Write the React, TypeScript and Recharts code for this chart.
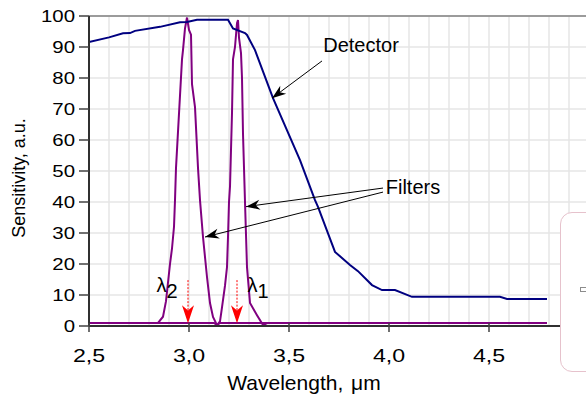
import React from "react";
import {
  CartesianGrid,
  Label,
  Line,
  LineChart,
  ReferenceDot,
  ReferenceLine,
  XAxis,
  YAxis,
} from "recharts";

const X_TICKS = [
  2.5, 2.6, 2.7, 2.8, 2.9, 3.0, 3.1, 3.2, 3.3, 3.4, 3.5, 3.6, 3.7, 3.8, 3.9,
  4.0, 4.1, 4.2, 4.3, 4.4, 4.5, 4.6, 4.7, 4.8, 4.9, 5.0,
];
// labelled ticks (5,0 sits under the legend box, so it is left out)
const X_MAJOR = [2.5, 3.0, 3.5, 4.0, 4.5];
const Y_TICKS = [0, 10, 20, 30, 40, 50, 60, 70, 80, 90, 100];

const DETECTOR_X = [
  2.5, 2.6, 2.67, 2.705, 2.73, 2.855, 2.955, 2.99, 3.04, 3.195, 3.22, 3.28,
  3.29, 3.33, 3.42, 3.555, 3.63, 3.645, 3.73, 3.805, 3.845, 3.915, 3.965,
  4.03, 4.115, 4.165, 4.555, 4.59, 4.79,
];
const DETECTOR_Y = [
  91.6, 93.1, 94.4, 94.5, 95.2, 96.5, 98, 98.1, 98.8, 98.8, 96, 94.5, 93.9,
  89, 73.5, 53.5, 40.6, 38.4, 23.9, 19.7, 17.7, 13.2, 11.6, 11.6, 9.4, 9.4,
  9.4, 8.7, 8.7,
];

// filter centred near lambda 2
const FILTER2_X = [
  2.5, 2.845, 2.87, 2.885, 2.905, 2.915, 2.925, 2.93, 2.935, 2.965, 2.97,
  2.98, 2.99, 3.0, 3.01, 3.015, 3.03, 3.045, 3.055, 3.07, 3.09, 3.105, 3.12,
  3.14, 3.155, 4.79,
];
const FILTER2_Y = [
  1, 1, 3, 8, 20, 25, 32, 40.6, 51, 86, 89, 96, 99.5, 95.5, 94, 78, 70.6, 51,
  40.6, 28.7, 15.8, 7.4, 2.9, 0.3, 1, 1,
];

// filter centred near lambda 1
const FILTER1_X = [
  2.5, 3.125, 3.14, 3.155, 3.165, 3.18, 3.19, 3.195, 3.2, 3.205, 3.215, 3.22,
  3.23, 3.24, 3.245, 3.25, 3.26, 3.265, 3.27, 3.28, 3.29, 3.305, 3.34, 3.37,
  3.395, 4.79,
];
const FILTER1_Y = [
  1, 1, 0.3, 1.5, 6, 13, 19, 28.7, 40, 45, 68.7, 86, 90, 97.7, 98.7, 93, 88,
  80, 62, 40, 19, 7.4, 3.5, 0.3, 1, 1,
];

const LAMBDA_ARROW_X = [2.995, 3.24];

const toPoints = (xs: number[], ys: number[]) =>
  xs.map((x, i) => ({ x, y: ys[i] }));

const detector = toPoints(DETECTOR_X, DETECTOR_Y);
const filter2 = toPoints(FILTER2_X, FILTER2_Y);
const filter1 = toPoints(FILTER1_X, FILTER1_Y);

const FONT = "'Liberation Sans', Arial, sans-serif";

const arrowHead = (
  x1: number,
  y1: number,
  x2: number,
  y2: number,
  len: number,
  half: number,
) => {
  const dx = x2 - x1;
  const dy = y2 - y1;
  const d = Math.hypot(dx, dy) || 1;
  const ux = dx / d;
  const uy = dy / d;
  const bx = x2 - ux * len;
  const by = y2 - uy * len;
  const nx = x2 - ux * len * 0.7;
  const ny = y2 - uy * len * 0.7;
  return `${x2},${y2} ${bx - uy * half},${by + ux * half} ${nx},${ny} ${bx + uy * half},${by - ux * half}`;
};

const BlackArrow = (props: any) => {
  const { x1, y1, x2, y2 } = props;
  return (
    <g>
      <line x1={x1} y1={y1} x2={x2} y2={y2} stroke="#000" strokeWidth={1} />
      <polygon points={arrowHead(x1, y1, x2, y2, 14, 5)} fill="#000" />
    </g>
  );
};

const RedArrow = (props: any) => {
  const { x1, y1, x2, y2 } = props;
  return (
    <g>
      <line
        x1={x1}
        y1={y1}
        x2={x2}
        y2={y2 - 12}
        stroke="#ff0000"
        strokeWidth={1}
        strokeDasharray="2 1.5"
      />
      <polygon points={arrowHead(x1, y1, x2, y2, 18, 6)} fill="#ff0000" />
    </g>
  );
};

const XTick = (props: any) => {
  const { x, y, payload } = props;
  const v = payload.value as number;
  if (!X_MAJOR.some((m) => Math.abs(m - v) < 1e-6)) return null;
  return (
    <g>
      <line x1={x} y1={y - 3} x2={x} y2={y + 6} stroke="#404040" strokeWidth={1.5} />
      <text
        transform={`translate(${x},${y + 36}) scale(1.22,1)`}
        textAnchor="middle"
        fontSize={19}
        fill="#000"
        fontFamily={FONT}
      >
        {v.toFixed(1).replace(".", ",")}
      </text>
    </g>
  );
};

const YTick = (props: any) => {
  const { x, y, payload } = props;
  return (
    <g>
      <line x1={x - 10} y1={y} x2={x} y2={y} stroke="#404040" strokeWidth={1.5} />
      <text
        transform={`translate(${x - 14},${y + 6}) scale(1.2,1)`}
        textAnchor="end"
        fontSize={17}
        fill="#000"
        fontFamily={FONT}
      >
        {payload.value}
      </text>
    </g>
  );
};

const XTitle = (props: any) => {
  const { viewBox } = props;
  return (
    <text
      x={viewBox.x + 215}
      y={viewBox.y + 64}
      textAnchor="middle"
      fontSize={21}
      fill="#000"
      fontFamily={FONT}
    >
      Wavelength, <tspan dx={2}>μ</tspan>m
    </text>
  );
};

const YTitle = (props: any) => {
  const { viewBox } = props;
  const cx = viewBox.x + 25;
  const cy = viewBox.y + viewBox.height / 2 + 7;
  return (
    <text
      x={cx}
      y={cy}
      transform={`rotate(-90 ${cx} ${cy})`}
      textAnchor="middle"
      fontSize={18}
      fill="#000"
      fontFamily={FONT}
    >
      Sensitivity, a.u.
    </text>
  );
};

const textShape = (content: React.ReactNode) => (props: any) => (
  <text
    x={props.cx}
    y={props.cy}
    textAnchor="middle"
    fontSize={20}
    fill="#000"
    fontFamily={FONT}
  >
    {content}
  </text>
);

export default function App() {
  return (
    <div
      style={{
        position: "absolute",
        left: 0,
        top: 0,
        width: 586,
        height: 399,
        overflow: "hidden",
        background: "#fff",
        fontFamily: FONT,
      }}
    >
      <LineChart
        width={600}
        height={399}
        margin={{ top: 16, right: 11, bottom: 0, left: 0 }}
      >
        <CartesianGrid stroke="#e6e6e6" strokeWidth={1.5} />
        <XAxis
          dataKey="x"
          type="number"
          domain={[2.5, 5.0]}
          ticks={X_TICKS}
          interval={0}
          allowDataOverflow
          height={73}
          tickSize={0}
          tickMargin={0}
          tickLine={false}
          tick={<XTick />}
          axisLine={{ stroke: "#303030", strokeWidth: 2 }}
        >
          <Label content={<XTitle />} />
        </XAxis>
        <YAxis
          type="number"
          domain={[0, 100]}
          ticks={Y_TICKS}
          interval={0}
          width={89}
          tickSize={0}
          tickMargin={0}
          tickLine={false}
          tick={<YTick />}
          axisLine={{ stroke: "#303030", strokeWidth: 2 }}
        >
          <Label content={<YTitle />} />
        </YAxis>
        <ReferenceLine y={100} stroke="#808080" strokeWidth={1.5} />

        <Line
          data={filter1}
          dataKey="y"
          type="linear"
          stroke="#800080"
          strokeWidth={2}
          dot={false}
          isAnimationActive={false}
        />
        <Line
          data={filter2}
          dataKey="y"
          type="linear"
          stroke="#800080"
          strokeWidth={2}
          dot={false}
          isAnimationActive={false}
        />
        <Line
          data={detector}
          dataKey="y"
          type="linear"
          stroke="#000080"
          strokeWidth={2}
          dot={false}
          isAnimationActive={false}
        />

        <ReferenceLine
          segment={[
            { x: 3.665, y: 85.5 },
            { x: 3.415, y: 73.5 },
          ]}
          shape={BlackArrow}
        />
        <ReferenceLine
          segment={[
            { x: 3.97, y: 44.5 },
            { x: 3.285, y: 38.5 },
          ]}
          shape={BlackArrow}
        />
        <ReferenceLine
          segment={[
            { x: 3.97, y: 43.2 },
            { x: 3.08, y: 28.7 },
          ]}
          shape={BlackArrow}
        />
        {LAMBDA_ARROW_X.map((lx) => (
          <ReferenceLine
            key={lx}
            segment={[
              { x: lx, y: 14.8 },
              { x: lx, y: 0.9 },
            ]}
            shape={RedArrow}
          />
        ))}

        <ReferenceDot x={3.86} y={88.5} r={0} shape={textShape("Detector")} />
        <ReferenceDot x={4.12} y={42.5} r={0} shape={textShape("Filters")} />
        <ReferenceDot
          x={2.89}
          y={11}
          r={0}
          shape={textShape(
            <>
              λ<tspan dy={6}>2</tspan>
            </>,
          )}
        />
        <ReferenceDot
          x={3.345}
          y={11}
          r={0}
          shape={textShape(
            <>
              λ<tspan dy={6}>1</tspan>
            </>,
          )}
        />
      </LineChart>
      <div
        style={{
          position: "absolute",
          left: 560,
          top: 212,
          width: 60,
          height: 158,
          border: "1px solid #e6c2cc",
          borderRadius: 12,
          background: "#fff",
        }}
      >
        <div
          style={{
            position: "absolute",
            left: 19,
            top: 74,
            width: 8,
            height: 3,
            border: "1px solid #8c8c8c",
            background: "#fff",
          }}
        />
      </div>
    </div>
  );
}
